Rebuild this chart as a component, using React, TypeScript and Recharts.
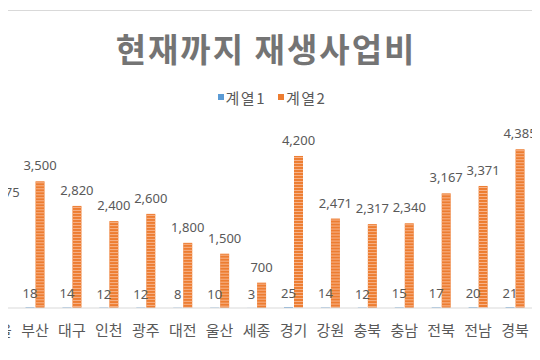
import React from 'react';
import { BarChart, Bar, XAxis, YAxis, LabelList, Legend } from 'recharts';

const categories = ['서울', '부산', '대구', '인천', '광주', '대전', '울산', '세종', '경기', '강원', '충북', '충남', '전북', '전남', '경북', '경남'];
const series1 = [26, 18, 14, 12, 12, 8, 10, 3, 25, 14, 12, 15, 17, 20, 21, 22];
const series2 = [2775, 3500, 2820, 2400, 2600, 1800, 1500, 700, 4200, 2471, 2317, 2340, 3167, 3371, 4385, 3000];
const seriesNames = ['계열1', '계열2'];
const seriesColors = ['#5B9BD5', '#ED7D31'];
const title = '현재까지 재생사업비';

const data = categories.map((c, i) => ({ name: c, s1: series1[i], s2: series2[i] }));

const TEXT = '#595959';
const KR = '"Noto Sans CJK KR", "Noto Sans", sans-serif';

const fmt = (v: any) => Number(v).toLocaleString('en-US');

const StripedBar = (props: any) => {
  const { x, y, width, height, fill } = props;
  if (!height || height <= 0) return null;
  const lines: any[] = [];
  if (height > 4) {
    for (let yy = y + 1.5; yy < y + height; yy += 3) {
      lines.push(<line key={yy} x1={x} x2={x + width} y1={yy} y2={yy} stroke="#F7B48C" strokeWidth={1} />);
    }
  }
  return (
    <g>
      <rect x={x} y={y} width={width} height={height} fill={fill} />
      {lines}
    </g>
  );
};

const renderLegend = () => (
  <div
    style={{
      display: 'flex',
      justifyContent: 'center',
      alignItems: 'center',
      height: 20,
      fontFamily: KR,
      fontSize: 15,
      letterSpacing: 1.5,
      color: TEXT,
    }}
  >
    {seriesNames.map((n, i) => (
      <div key={n} style={{ display: 'flex', alignItems: 'center', marginRight: i === 0 ? 12 : 0 }}>
        <span style={{ display: 'inline-block', width: 6, height: 6, background: seriesColors[i], marginRight: 2 }} />
        <span>{n}</span>
      </div>
    ))}
  </div>
);

const SHIFT = 40;

export default function App() {
  return (
    <div style={{ margin: -8, position: 'relative', width: 540, height: 360, overflow: 'hidden', background: '#fff' }}>
      <div
        style={{
          position: 'absolute',
          top: 10,
          left: -2,
          width: 544,
          height: 344,
          boxSizing: 'border-box',
          borderTop: '1px solid #d9d9d9',
          borderBottom: '1px solid #d9d9d9',
          pointerEvents: 'none',
        }}
      />
      <div
        style={{
          position: 'absolute',
          top: 28,
          left: 0,
          width: 540,
          textAlign: 'center',
          fontFamily: KR,
          fontWeight: 700,
          fontSize: 33,
          lineHeight: '40px',
          letterSpacing: 2,
          color: '#747474',
          transform: 'translateX(-4px)',
        }}
      >
        {title}
      </div>
      <div style={{ position: 'absolute', top: 0, left: -SHIFT }}>
        <BarChart
          width={540 + 2 * SHIFT}
          height={360}
          data={data}
          margin={{ top: 107, right: SHIFT - 30.4, bottom: 22, left: SHIFT - 20.4 }}
          barSize={9}
          barGap={1}
        >
          <Legend verticalAlign="top" content={renderLegend} wrapperStyle={{ top: 87, left: SHIFT + 2, width: 540 }} />
          <XAxis
            dataKey="name"
            interval={0}
            tickLine={false}
            axisLine={{ stroke: '#d9d9d9' }}
            height={30}
            tickMargin={11}
            tick={{ fill: TEXT, fontSize: 15, fontFamily: KR }}
          />
          <YAxis hide domain={[0, 5000]} />
          <Bar dataKey="s1" name={seriesNames[0]} fill={seriesColors[0]} isAnimationActive={false}>
            <LabelList dataKey="s1" position="top" offset={9} fill={TEXT} fontSize={13} fontFamily='"Noto Sans", sans-serif' formatter={fmt} />
          </Bar>
          <Bar dataKey="s2" name={seriesNames[1]} fill={seriesColors[1]} shape={StripedBar} isAnimationActive={false}>
            <LabelList dataKey="s2" position="top" offset={11} fill={TEXT} fontSize={13} fontFamily='"Noto Sans", sans-serif' formatter={fmt} />
          </Bar>
        </BarChart>
      </div>
    </div>
  );
}
